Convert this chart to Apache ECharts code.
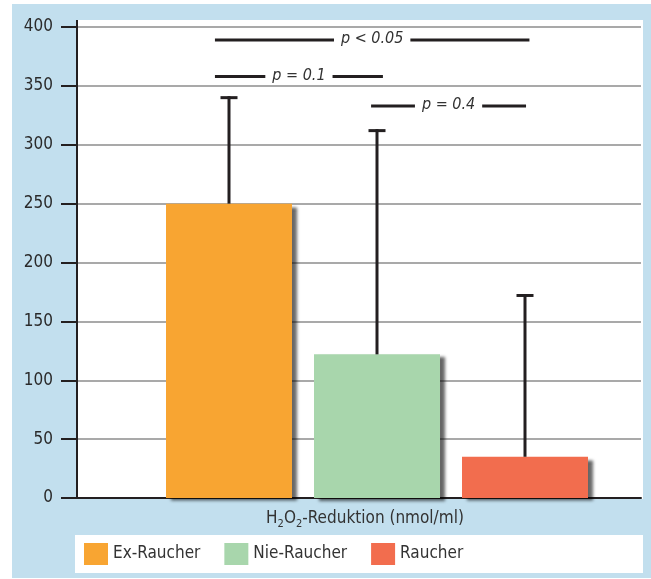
<!DOCTYPE html>
<html><head><meta charset="utf-8">
<script src="https://cdn.jsdelivr.net/npm/echarts@6/dist/echarts.min.js"></script>
<style>html,body{margin:0;padding:0;background:#fff}#c{width:651px;height:579px}</style>
</head><body><div id="c"></div>
<script>
// ---- data ----
const groups = ['Ex-Raucher', 'Nie-Raucher', 'Raucher'];
const means = [250, 122, 35];
const upper = [340, 312, 172];
const axisCategory = ['H2O2-Reduktion (nmol/ml)'];
const yTickMax = 400;
const yTickStep = 50;
// significance brackets: start/end in category positions, height in data units
const sigFrom = [-0.095, -0.095, 0.96];
const sigTo = [2.03, 1.04, 2.007];
const sigY = [389, 358, 333];
const sigLabels = ['p < 0.05', 'p = 0.1', 'p = 0.4'];

// ---- style ----
const colors = ['#f8a532', '#a8d6ac', '#f26d4e'];
const FONT = "'DejaVu Sans Condensed','Liberation Sans Narrow',sans-serif";
const INK = '#231f20';

const chart = echarts.init(document.getElementById('c'), null, {renderer: 'canvas'});

const barSeries = groups.map((g, i) => ({
  name: g,
  type: 'bar',
  xAxisIndex: 1, yAxisIndex: 1,
  barWidth: 126,
  barGap: '-100%',
  data: groups.map((_, j) => j === i ? means[i] : '-'),
  itemStyle: {
    color: colors[i],
    shadowColor: 'rgba(0,0,0,0.6)', shadowBlur: 3, shadowOffsetX: 5, shadowOffsetY: 3
  },
  z: 3
}));

const errSeries = {
  type: 'custom',
  xAxisIndex: 1, yAxisIndex: 1,
  z: 5,
  data: groups.map((g, i) => [i, means[i], upper[i]]),
  renderItem: function (params, api) {
    const lo = api.coord([api.value(0), api.value(1)]);
    const hi = api.coord([api.value(0), api.value(2)]);
    const st = {stroke: INK, lineWidth: 3};
    return {type: 'group', children: [
      {type: 'line', shape: {x1: lo[0], y1: lo[1], x2: hi[0], y2: hi[1] - 1.5}, style: st},
      {type: 'line', shape: {x1: hi[0] - 8.5, y1: hi[1], x2: hi[0] + 8.5, y2: hi[1]}, style: st}
    ]};
  }
};

const sigSeries = {
  type: 'custom',
  xAxisIndex: 1, yAxisIndex: 1,
  z: 6,
  data: sigLabels.map((l, i) => [sigFrom[i], sigTo[i], sigY[i], i]),
  renderItem: function (params, api) {
    const c0 = api.coord([0, api.value(2)]);
    const bw = api.size([1, 0])[0];
    const x1 = c0[0] + api.value(0) * bw;
    const x2 = c0[0] + api.value(1) * bw;
    const y = c0[1];
    return {type: 'group', children: [
      {type: 'line', shape: {x1: x1, y1: y, x2: x2, y2: y}, style: {stroke: INK, lineWidth: 3}},
      {type: 'text', x: (x1 + x2) / 2, y: y - 1, style: {
        text: sigLabels[api.value(3)], fill: '#333', font: 'italic 16px ' + FONT,
        align: 'center', verticalAlign: 'middle', backgroundColor: '#fff', padding: [0, 7]
      }}
    ]};
  }
};

const option = {
  animation: false,
  backgroundColor: '#fff',
  graphic: [
    {type: 'rect', z: -10, shape: {x: 12, y: 4, width: 639, height: 574}, style: {fill: '#c2dfee'}},
    {type: 'rect', z: -9, shape: {x: 76, y: 20, width: 567, height: 479}, style: {fill: '#fff'}},
    {type: 'rect', z: -9, shape: {x: 75, y: 535, width: 568, height: 38}, style: {fill: '#fff'}},
    {type: 'line', z: 10, shape: {x1: 77, y1: 20, x2: 77, y2: 28}, style: {stroke: INK, lineWidth: 2}}
  ],
  legend: {
    data: groups,
    left: 84, top: 543, padding: 0,
    itemWidth: 24, itemHeight: 22, itemGap: 24,
    icon: 'rect',
    textStyle: {fontFamily: FONT, fontSize: 17, color: '#333'}
  },
  grid: [
    {left: 77, right: 10, top: 27, bottom: 81},
    {left: 155, width: 444, top: 27, bottom: 81}
  ],
  xAxis: [
    {
      type: 'category', gridIndex: 0, data: axisCategory,
      axisLine: {lineStyle: {color: INK, width: 2}},
      axisTick: {show: false},
      axisLabel: {
        margin: 10,
        padding: [0, 0, 0, 12],
        formatter: () => '{n|H}{s|2}{n|O}{s|2}{n|-Reduktion (nmol/ml)}',
        rich: {
          n: {fontFamily: FONT, fontSize: 17, color: '#333', lineHeight: 22, verticalAlign: 'middle'},
          s: {fontFamily: FONT, fontSize: 11, color: '#333', lineHeight: 12, verticalAlign: 'bottom'}
        }
      }
    },
    {type: 'category', gridIndex: 1, data: groups, show: false}
  ],
  yAxis: [
    {
      type: 'value', gridIndex: 0, min: 0, max: yTickMax, interval: yTickStep,
      axisLine: {show: true, lineStyle: {color: INK, width: 2}},
      axisTick: {show: true, length: 16, lineStyle: {color: INK, width: 2}},
      axisLabel: {fontFamily: FONT, fontSize: 17, color: '#2a2a2a', margin: 24},
      splitLine: {lineStyle: {color: '#8c8c8c', width: 1.5}}
    },
    {type: 'value', gridIndex: 1, min: 0, max: yTickMax, show: false, splitLine: {show: false}}
  ],
  series: [...barSeries, errSeries, sigSeries]
};
chart.setOption(option);
</script>
</body></html>
